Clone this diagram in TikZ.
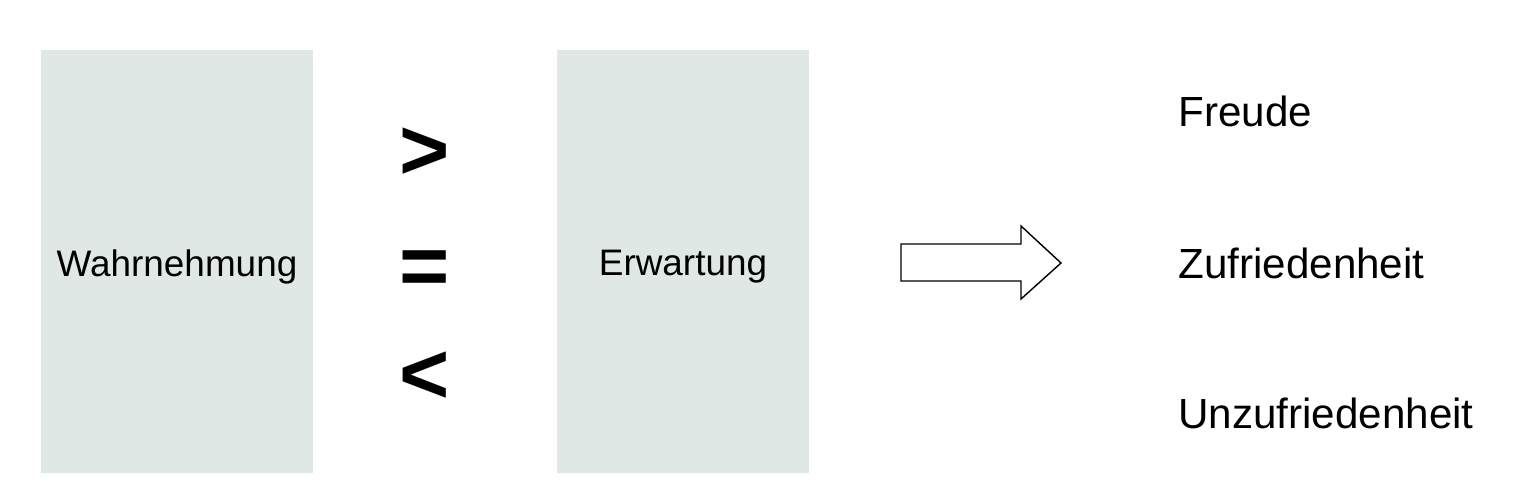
\documentclass[tikz,border=0pt]{standalone}
\usepackage{fontspec}
\setmainfont{Liberation Sans}
\usetikzlibrary{positioning}
\definecolor{boxgrau}{HTML}{DFE8E4}

\begin{document}
\begin{tikzpicture}[x=0.02cm, y=-0.02cm,
  box/.style={fill=boxgrau, draw=none, inner sep=0pt},
  boxtext/.style={anchor=base, inner sep=0pt, font=\fontsize{21}{25}\selectfont},
  rel/.style={inner sep=0pt, font=\fontsize{49}{56}\bfseries\selectfont},
  result/.style={anchor=base west, inner sep=0pt, font=\fontsize{24}{28}\selectfont}]
\useasboundingbox (0,0) rectangle (1534,500);

% --- Boxes ---
\node[box, minimum width=5.44cm, minimum height=8.46cm] (w) at (177,261.5) {};
\node[box, minimum width=5.04cm, minimum height=8.46cm] (e) at (683,261.5) {};
\node[boxtext] (wt) at (177,276) {Wahrnehmung};
\node[boxtext] (et) at (683,275.5) {Erwartung};

% --- Relations ---
\node[rel] (gt) at (425,154) {>};
\node[rel] (eq) at (425,273) {=};
\node[rel] (lt) at (425,378) {<};

% --- Arrow ---
\draw[thick] (901,244) -- (1021,244) -- (1021,226) -- (1061,263) -- (1021,299)
  -- (1021,281) -- (901,281) -- cycle;

% --- Results ---
\node[result] (fr) at (1178,127) {Freude};
\node[result] (zu) at (1178,278) {Zufriedenheit};
\node[result] (un) at (1178,428) {Unzufriedenheit};

\end{tikzpicture}
\end{document}
